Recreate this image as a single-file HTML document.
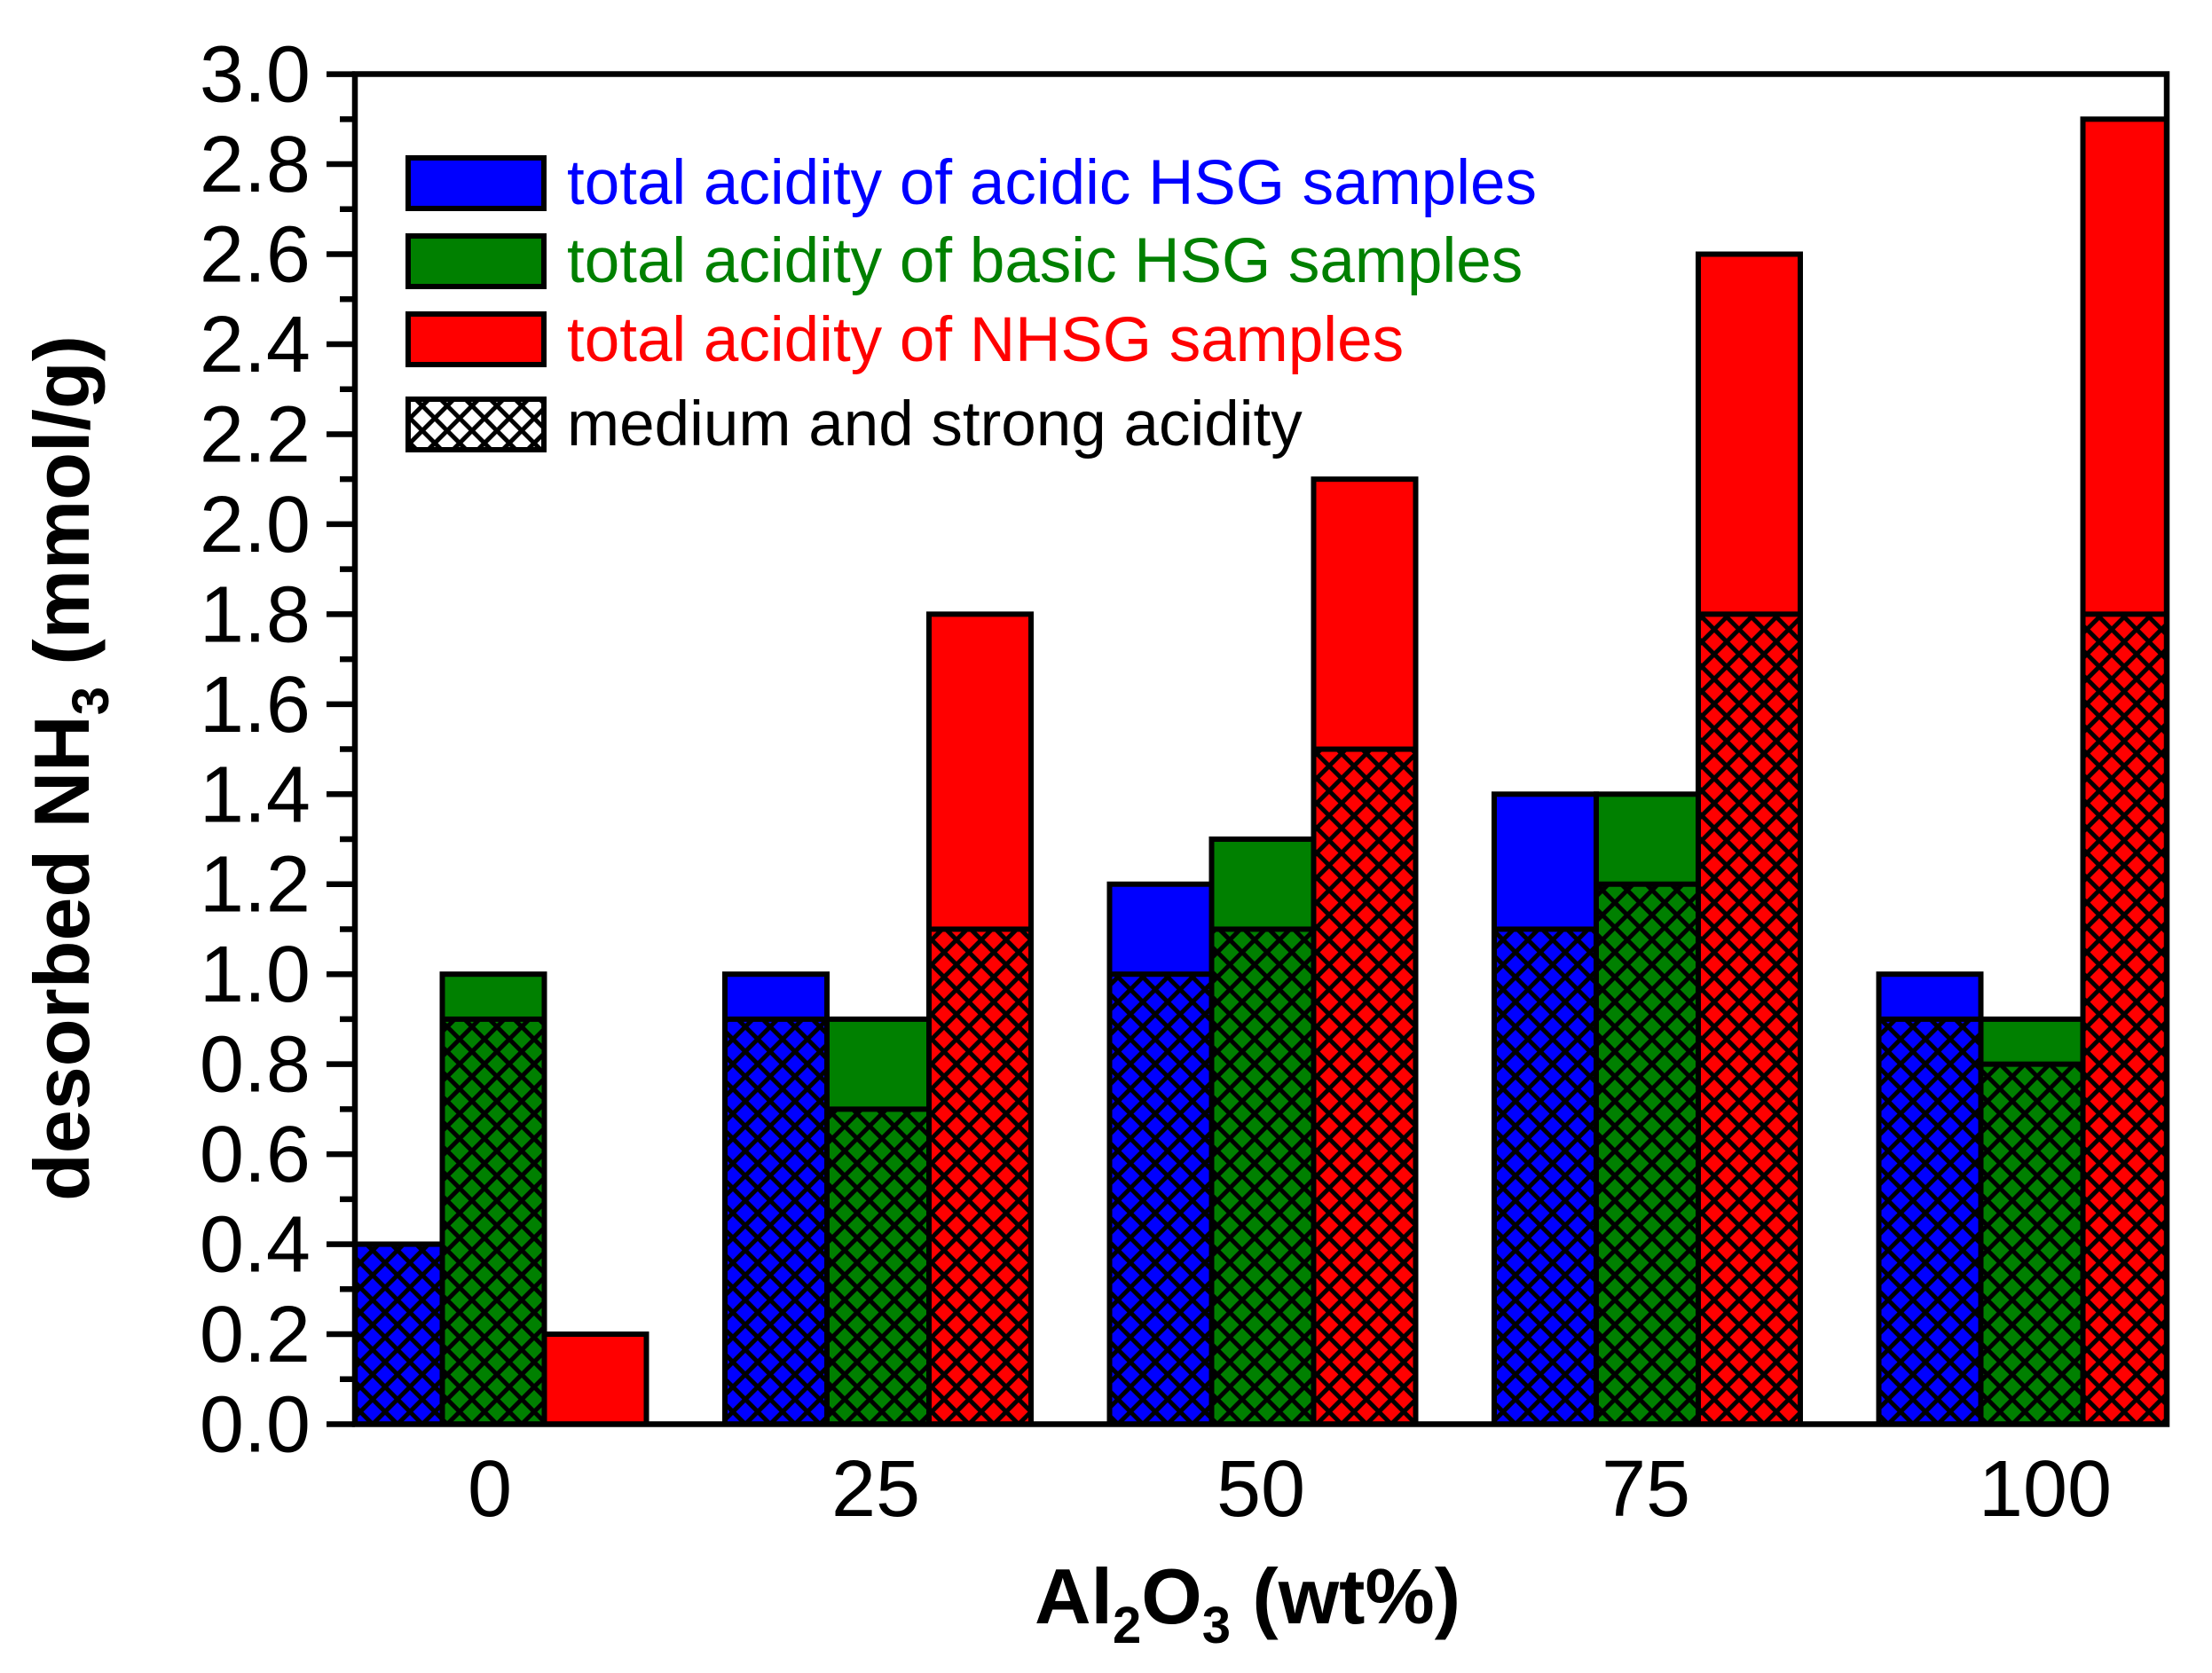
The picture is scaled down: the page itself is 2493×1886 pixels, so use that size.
<!DOCTYPE html>
<html><head><meta charset="utf-8"><style>html,body{margin:0;padding:0;background:#fff}svg{display:block}</style></head>
<body>
<svg id="s" xmlns="http://www.w3.org/2000/svg" width="2493" height="1886" viewBox="0 0 2493 1886">
<defs>
<pattern id="h" patternUnits="userSpaceOnUse" width="28" height="28" y="1605.5">
<path d="M-3,-3 L31,31 M31,-3 L-3,31" stroke="#000" stroke-width="5"/>
</pattern>
<clipPath id="pc"><rect x="400" y="80" width="2042" height="1530"/></clipPath>
</defs>
<g id="bars" clip-path="url(#pc)"></g>
<g stroke="#000" stroke-width="6.5" fill="none" stroke-linecap="square">
<rect x="400" y="83.5" width="2042" height="1522"/>
</g>
<g id="ticks" stroke="#000" stroke-width="6.5"></g>
<g id="yl" font-family="Liberation Sans, sans-serif" font-size="90" text-anchor="end"></g>
<g font-family="Liberation Sans, sans-serif" font-size="90" text-anchor="middle">
<text x="552" y="1709">0</text><text x="987" y="1709">25</text><text x="1421" y="1709">50</text><text x="1855" y="1709">75</text><text x="2305" y="1709">100</text>
</g>
<text x="1406" y="1830" font-family="Liberation Sans, sans-serif" font-size="88" font-weight="bold" text-anchor="middle">Al<tspan font-size="58" dy="22">2</tspan><tspan dy="-22">O</tspan><tspan font-size="58" dy="22">3</tspan><tspan dy="-22"> (wt%)</tspan></text>
<text transform="translate(100,866) rotate(-90)" font-family="Liberation Sans, sans-serif" font-size="88" font-weight="bold" text-anchor="middle">desorbed NH<tspan font-size="58" dy="22">3</tspan><tspan dy="-22"> (mmol/g)</tspan></text>
<g stroke="#000" stroke-width="6">
<rect x="460" y="178" width="153" height="57" fill="#0000ff"/>
<rect x="460" y="266" width="153" height="57" fill="#008000"/>
<rect x="460" y="354" width="153" height="57" fill="#ff0000"/>
<rect x="460" y="450" width="153" height="57" fill="#fff"/>
<rect x="460" y="450" width="153" height="57" fill="url(#h)"/>
</g>
<g font-family="Liberation Sans, sans-serif" font-size="71">
<text x="639" y="230" fill="#0000ff">total acidity of acidic HSG samples</text>
<text x="639" y="318" fill="#008000">total acidity of basic HSG samples</text>
<text x="639" y="407" fill="#ff0000">total acidity of NHSG samples</text>
<text x="639" y="502" fill="#000">medium and strong acidity</text>
</g>
</svg>
<script>
var NS="http://www.w3.org/2000/svg";
function Y(v){return 1605.5-507.3*v;}
function el(p,t,a){var e=document.createElementNS(NS,t);for(var k in a)e.setAttribute(k,a[k]);p.appendChild(e);return e;}
var data=[[[0.4,0.4],[1.0,0.9],[0.2,0]],[[1.0,0.9],[0.9,0.7],[1.8,1.1]],[[1.2,1.0],[1.3,1.1],[2.1,1.5]],[[1.4,1.1],[1.4,1.2],[2.6,1.8]],[[1.0,0.9],[0.9,0.8],[2.9,1.8]]];
var cols=["#0000ff","#008000","#ff0000"];
var bars=document.getElementById("bars");
for(var i=0;i<5;i++){var c=556+433.5*i;
for(var j=0;j<3;j++){var x=c-172.5+115*j,d=data[i][j];
el(bars,"rect",{x:x,y:Y(d[0]),width:115,height:Y(0)-Y(d[0]),fill:cols[j],stroke:"#000","stroke-width":6});
if(d[1]>0){el(bars,"rect",{x:x,y:Y(d[1]),width:115,height:Y(0)-Y(d[1]),fill:"url(#h)",stroke:"#000","stroke-width":6});}
}}
var tk=document.getElementById("ticks"),yl=document.getElementById("yl");
for(var k=0;k<=30;k++){var y=Y(k/10);
if(k%2==0){el(tk,"line",{x1:368,y1:y,x2:400,y2:y});var t=el(yl,"text",{x:350,y:y+31});t.textContent=(k/10).toFixed(1);}
else el(tk,"line",{x1:383,y1:y,x2:400,y2:y});}
</script>
</body></html>
